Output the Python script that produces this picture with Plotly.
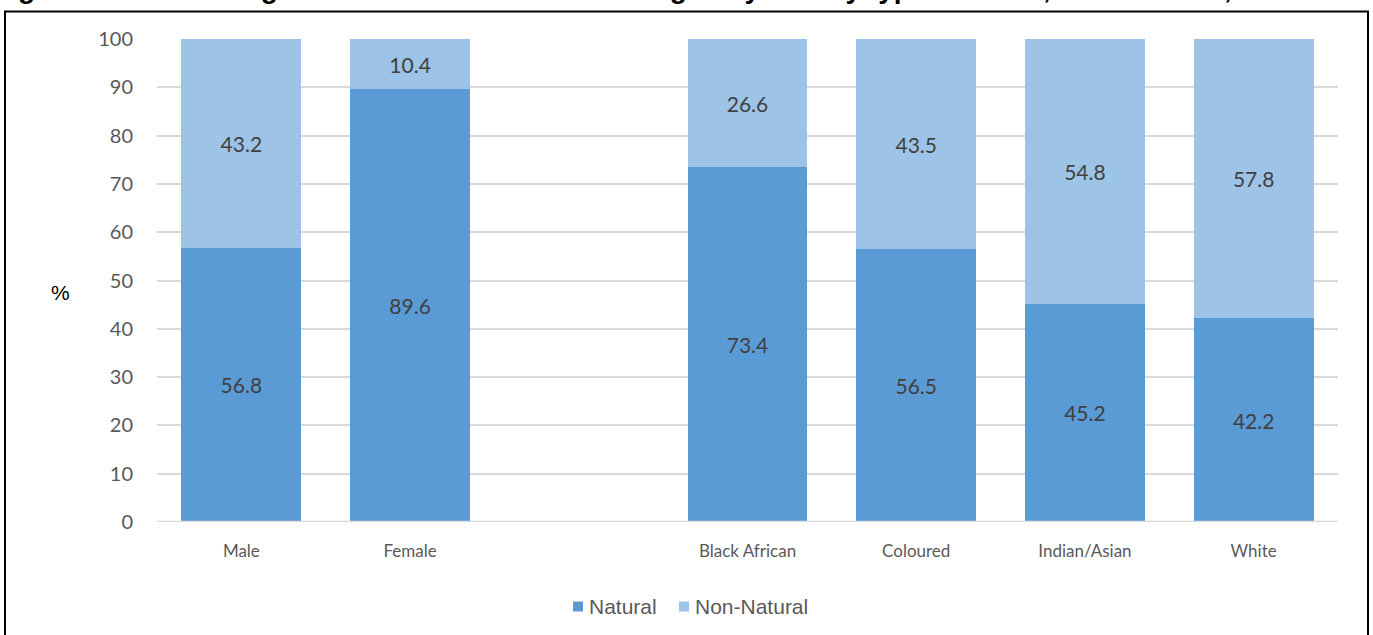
import plotly.graph_objects as go

categories = ["Male", "Female", " ", "Black African", "Coloured", "Indian/Asian", "White"]
natural = [56.8, 89.6, None, 73.4, 56.5, 45.2, 42.2]
non_natural = [43.2, 10.4, None, 26.6, 43.5, 54.8, 57.8]
series_names = ["Natural", "Non-Natural"]
series_colors = ["#5B9BD5", "#9DC3E6"]
y_ticks = list(range(0, 101, 10))
title_text = "Figure 4.1: Percentage distribution of deaths among the youth by type of death, South Africa, 2015"

W, H = 1373, 635
L, R, T, B = 157, 35, 39, 113
pw, ph = W - L - R, H - T - B

def px_x(px):
    return (px - L) / pw

def px_y(py):
    return (H - B - py) / ph

def labels(vals):
    return [("%.1f" % v) if v is not None else "" for v in vals]

label_font = dict(family="Lato, Carlito, sans-serif", size=21, color="#404040")

fig = go.Figure()
for name, vals, col in zip(series_names, [natural, non_natural], series_colors):
    fig.add_trace(go.Bar(
        name=name, x=categories, y=vals,
        marker=dict(color=col, line=dict(width=0)),
        text=labels(vals), textposition="inside", insidetextanchor="middle",
        textfont=label_font, textangle=0,
    ))

# custom legend (markers + texts) positioned like the reference
legend_items = [(573, 589), (679, 695)]
shapes = [
    dict(type="line", xref="paper", yref="y", x0=0, x1=1, y0=0, y1=0,
         line=dict(color="#D9D9D9", width=2.5), layer="above"),
    dict(type="rect", xref="paper", yref="paper",
         x0=px_x(5), x1=px_x(1368), y0=px_y(11.5), y1=px_y(660),
         line=dict(color="black", width=2), fillcolor="rgba(0,0,0,0)", layer="above"),
]
annotations = [
    dict(text="%", xref="paper", yref="paper", x=px_x(60), y=px_y(292),
         xanchor="center", yanchor="middle", showarrow=False,
         font=dict(family="Liberation Sans, Arial, sans-serif", size=21, color="black")),
    dict(text="<b>" + title_text + "</b>", xref="paper", yref="paper",
         x=px_x(-8), y=px_y(5), xanchor="left", yanchor="bottom", showarrow=False,
         borderpad=0,
         font=dict(family="Liberation Sans, Arial, sans-serif", size=28, color="black")),
]
for (mx, tx), name, col in zip(legend_items, series_names, series_colors):
    shapes.append(dict(type="rect", xref="paper", yref="paper",
                       x0=px_x(mx), x1=px_x(mx + 10), y0=px_y(601.5), y1=px_y(611.5),
                       line=dict(width=0), fillcolor=col))
    annotations.append(dict(text=name, xref="paper", yref="paper", x=px_x(tx - 2), y=px_y(606),
                            xanchor="left", yanchor="middle", showarrow=False,
                            font=dict(family="Liberation Sans, Arial, sans-serif", size=21, color="#595959")))

fig.update_layout(
    barmode="stack",
    bargap=0.29,
    width=W, height=H,
    margin=dict(l=L, r=R, t=T, b=B, pad=0),
    paper_bgcolor="white",
    plot_bgcolor="white",
    uniformtext=dict(minsize=8, mode="show"),
    showlegend=False,
    xaxis=dict(
        type="category",
        categoryorder="array", categoryarray=categories,
        tickfont=dict(family="Lato, Carlito, sans-serif", size=17, color="#595959"),
        showgrid=False, showline=False, ticks="outside", ticklen=14, tickcolor="rgba(0,0,0,0)",
        zeroline=False,
    ),
    yaxis=dict(
        range=[0, 100],
        tickvals=y_ticks,
        ticktext=[str(v) for v in y_ticks],
        tickfont=dict(family="Lato, Carlito, sans-serif", size=20, color="#595959"),
        showgrid=True, gridcolor="#D9D9D9", gridwidth=1.5,
        zeroline=False, showline=False, ticks="outside", ticklen=19, tickcolor="rgba(0,0,0,0)",
    ),
    shapes=shapes,
    annotations=annotations,
)

fig.write_html("out.html")
